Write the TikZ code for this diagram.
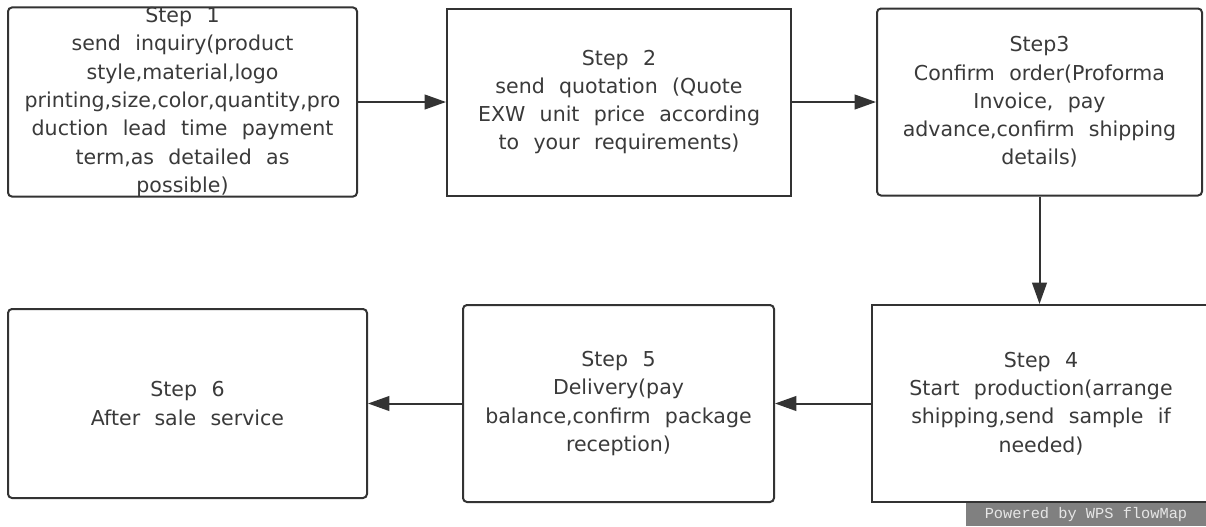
\documentclass[tikz,border=0pt]{standalone}
\usepackage{fontspec}
\setmainfont{DejaVu Sans}
\newfontfamily\wmfont{Liberation Mono}
\usetikzlibrary{arrows.meta}
\definecolor{linec}{HTML}{333333}
\definecolor{textc}{HTML}{3A3A3A}
\definecolor{wmfill}{HTML}{808080}
\definecolor{wmtext}{HTML}{E6E6E6}
\tikzset{
  boxbase/.style={draw=linec, line width=1.5pt, align=center, text=textc, inner sep=0pt,
    font={\fontsize{15.4}{21.2}\selectfont\spaceskip=0.7em plus 0.1em minus 0.1em}},
  roundbox/.style={boxbase, rounded corners=3pt},
  squarebox/.style={boxbase},
  flowarrow/.style={draw=linec, line width=1.5pt, -{Triangle[length=16pt,width=11pt]}},
}
\begin{document}
\begin{tikzpicture}[x=0.75pt,y=-0.75pt]
\useasboundingbox (0,0) rectangle (1206,526);
\clip (0,0) rectangle (1206,526);
\fill[white] (0,0) rectangle (1206,526);
\node[roundbox, minimum width=349*0.75pt, minimum height=187*0.75pt] (s1) at (182.5,102)
  {Step 1\\send inquiry(product\\style,material,logo\\printing,size,color,quantity,pro\\duction lead time payment\\term,as detailed as\\possible)};
\node[squarebox, minimum width=344*0.75pt, minimum height=187*0.75pt] (s2) at (619,102)
  {Step 2\\send quotation (Quote\\EXW unit price according\\to your requirements)};
\node[roundbox, minimum width=325*0.75pt, minimum height=187*0.75pt] (s3) at (1039.5,102)
  {Step3\\Confirm order(Proforma\\Invoice, pay\\advance,confirm shipping\\details)};
\node[squarebox, minimum width=338*0.75pt, minimum height=197*0.75pt] (s4) at (1041,403.5)
  {Step 4\\Start production(arrange\\shipping,send sample if\\needed)};
\node[roundbox, minimum width=311*0.75pt, minimum height=197*0.75pt] (s5) at (618.5,403.5)
  {Step 5\\Delivery(pay\\balance,confirm package\\reception)};
\node[roundbox, minimum width=359*0.75pt, minimum height=189*0.75pt] (s6) at (187.5,403.5)
  {Step 6\\After sale service};
\draw[flowarrow] (s1.east) -- (s2.west);
\draw[flowarrow] (s2.east) -- (s3.west);
\draw[flowarrow] (s3.south) -- (s3.south |- s4.north);
\draw[flowarrow] (s4.west) -- (s5.east);
\draw[flowarrow] (s5.west) -- (s6.east);
\node[fill=wmfill, text=wmtext, inner sep=0pt, minimum width=240*0.75pt, minimum height=23*0.75pt,
  font=\wmfont\fontsize{11.5}{12}\selectfont] (wm) at (1086,514.5) {Powered by WPS flowMap};
\end{tikzpicture}
\end{document}
